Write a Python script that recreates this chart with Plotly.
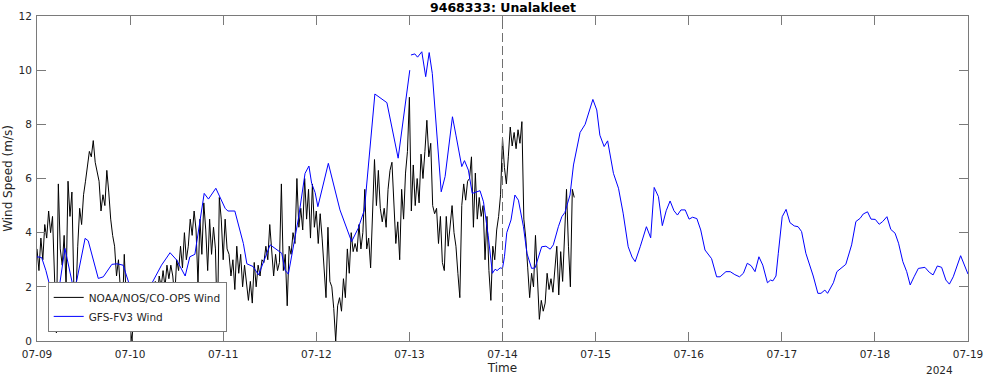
import pandas as pd
import plotly.graph_objects as go

# ---------------- data ----------------
start = pd.Timestamp("2024-07-09 00:00")
forecast_start = "2024-07-14 00:00"
x_range = ["2024-07-09 00:00", "2024-07-19 00:00"]
y_ticks = [0, 2, 4, 6, 8, 10, 12]

obs_step_hours = 0.5
obs_wind = [
    3.4, 2.6, 3.8, 3.0, 4.3, 3.8, 4.8, 4.0, 4.6, 2.0,
    0.3, 5.8, 3.4, 2.8, 3.9, 2.0, 5.9, 4.6, 5.5, 2.0,
    1.5, 3.5, 4.9, 4.3, 5.4, 5.9, 6.5, 7.0, 6.8, 7.4,
    6.6, 6.2, 5.9, 4.8, 5.4, 5.0, 6.3, 5.5, 4.5, 3.9,
    3.5, 2.4, 3.0, 1.9, 1.0, 3.2, 1.6, 2.0, 0.5, 0.0,
    1.4, 1.7, 1.8, 1.5, 1.9, 1.6, 1.8, 1.4, 2.0, 1.7,
    1.3, 2.2, 1.6, 2.4, 2.0, 2.6, 2.0, 2.8, 2.3, 2.8,
    2.4, 1.6, 3.0, 2.6, 3.5, 2.7, 4.0, 3.0, 3.5, 4.5,
    3.9, 4.8, 4.1, 2.1, 4.5, 3.2, 5.1, 4.1, 2.6, 4.5,
    3.2, 4.2, 3.4, 0.4, 5.3, 4.5, 3.0, 4.5, 3.4, 3.2,
    2.4, 3.0, 1.9, 3.5, 2.5, 3.2, 2.0, 2.8, 2.2, 1.5,
    2.2, 1.4, 2.9, 2.0, 2.8, 2.4, 3.0, 2.9, 3.5, 3.0,
    4.3, 3.5, 2.4, 3.2, 2.6, 2.9, 5.8, 2.6, 3.2, 1.3,
    3.5, 3.2, 4.0, 3.6, 6.0, 4.2, 4.9, 4.1, 6.0, 4.5,
    5.6, 3.8, 5.8, 4.2, 4.8, 3.6, 4.7, 3.8, 2.7, 1.6,
    4.2, 2.2, 2.0, 1.2, 0.0, 1.3, 1.6, 1.1, 2.3, 1.6,
    3.4, 2.5, 4.0, 3.3, 3.6, 3.3, 4.3, 3.4, 4.0, 5.6,
    3.4, 3.8, 2.7, 5.0, 6.7, 5.0, 6.3, 4.9, 4.4, 4.9,
    4.2, 5.6, 6.3, 6.6, 4.9, 3.6, 4.4, 3.0, 5.6, 4.5,
    6.2, 7.0, 9.0, 4.8, 6.5, 5.0, 6.0, 5.1, 6.9, 6.0,
    7.0, 8.15, 6.8, 7.3, 5.0, 4.7, 4.9, 3.6, 4.6, 2.9,
    2.6, 4.6, 3.5, 4.4, 5.0, 4.0, 3.5, 2.5, 1.6, 5.0,
    5.8, 5.2, 5.9, 6.0, 6.8, 4.2, 6.2, 4.5, 5.3, 4.6,
    5.0, 3.0, 4.6, 2.6, 1.5, 3.5, 3.0, 4.1, 4.6, 5.4,
    7.5, 6.4, 5.8, 6.8, 7.9, 7.2, 7.7, 7.1, 7.8, 7.3,
    8.1, 4.5, 3.8, 2.7, 1.6, 2.5, 2.0, 3.9, 2.3, 0.8,
    1.5, 1.1, 1.4, 2.5, 1.9, 2.3, 1.8, 2.6, 3.5, 1.7,
    3.3, 2.2, 3.7, 5.6, 3.5, 2.0, 5.6, 5.3,
]

# model wind: hours since 07-09 00:00 and speed (None = break in the line)
model_hours = [
    0, 1.2, 2.3, 3.8, 4.6, 5.5, 7.2, 9.2, 10.2, 12.4,
    13.2, 15.8, 17.1, 19.3, 20.6, 22.2, 24.0, 25.3, 26.6, 29.6,
    32.1, 34.3, 36.0, 38.2, 39.4, 40.7, 43.1, 44.2, 46.1, 48.5,
    49.2, 51.0, 53.2, 54.1, 55.7, 57.1, 60.1, 61.6, 63.1, 63.9,
    64.8, 67.4, 69.1, 70.1, 70.8, 71.7, 72.4, 75.1, 78.1, 81.1,
    82.8, 84.4, 87.1, 90.2, 93.1, 96.1, 96.25, 96.4, 97.4, 98.1,
    99.2, 100.2, 101.1, 101.9, 104.2, 105.2, 107.1, 108.0, 109.5, 110.2,
    111.2, 112.2, 114.2, 115.1, 116.3, 117.4, 118.1, 118.6, 119.4, 120.0,
    120.5, 121.1, 122.2, 123.2, 124.1, 125.4, 126.3, 127.5, 128.4, 130.1,
    131.2, 132.3, 133.1, 134.4, 135.3, 136.1, 137.4, 138.3, 140.0, 141.3,
    143.3, 144.3, 145.1, 146.2, 147.1, 148.6, 149.9, 151.1, 152.4, 153.4,
    154.2, 155.5, 157.1, 158.2, 159.1, 160.2, 161.2, 162.2, 163.2, 164.2,
    165.1, 166.0, 167.1, 168.1, 169.0, 170.1, 171.1, 172.2, 173.9, 175.2,
    176.1, 177.6, 178.7, 179.9, 181.1, 182.1, 183.1, 184.1, 185.1, 186.1,
    187.1, 188.3, 189.1, 189.7, 190.5, 191.1, 192.1, 193.1, 194.1, 195.2,
    196.2, 197.1, 198.2, 200.1, 201.3, 202.1, 203.1, 203.8, 205.3, 206.2,
    207.3, 208.5, 210.0, 211.1, 212.2, 213.0, 214.1, 215.0, 216.1, 217.1,
    218.0, 219.1, 220.1, 221.2, 222.1, 223.2, 224.2, 225.1, 226.1, 227.2,
    228.9, 230.0, 231.0, 232.1, 233.2, 234.3, 235.2, 236.2, 238.1, 240.0,
]
model_wind = [
    3.11, 3.08, 2.6, 1.76, 1.6, 1.75, 3.42, 2.07, 2.2, 3.79,
    3.7, 2.31, 2.37, 2.83, 2.85, 2.8, 2.0, 1.6, 1.65, 2.13,
    2.8, 3.26, 2.99, 2.40, 3.11, 3.2, 5.45, 5.24, 5.64, 4.9,
    4.8, 4.8, 3.6, 2.85, 2.75, 2.44, 3.55, 3.38, 3.24, 2.62,
    2.47, 4.53, 6.19, 6.46, 5.82, 5.48, 4.96, 6.56, 4.84, 3.67,
    4.16, 4.84, 9.12, 8.8, 6.75, 10.0, None, 10.56, 10.6, 10.48,
    10.68, 9.76, 10.65, 9.88, 5.51, 6.07, 8.28, 7.6, 6.44, 6.66,
    6.31, 5.45, 5.55, 5.14, 3.9, 2.5, 2.65, 2.6, 2.7, 2.68,
    3.11, 4.0, 4.47, 5.39, 5.2, 4.22, 3.24, 2.68, 2.7, 3.48,
    3.5, 3.39, 3.55, 4.22, 4.59, 4.75, 5.39, 6.5, 7.7, 8.0,
    8.92, 8.53, 7.6, 7.18, 7.39, 6.19, 5.64, 4.72, 3.48, 3.1,
    2.93, 3.48, 4.22, 3.81, 5.67, 5.33, 4.26, 4.81, 5.17, 4.81,
    4.65, 4.84, 4.84, 4.5, 4.57, 4.52, 4.1, 3.36, 3.04, 2.37,
    2.37, 2.56, 2.56, 2.45, 2.37, 2.5, 2.87, 2.78, 2.56, 3.11,
    2.8, 2.15, 2.25, 2.22, 2.4, 3.24, 4.59, 4.86, 4.37, 4.25,
    4.22, 4.04, 3.24, 2.4, 1.76, 1.76, 1.88, 1.76, 2.15, 2.56,
    2.68, 2.83, 3.55, 4.41, 4.53, 4.69, 4.77, 4.5, 4.49, 4.31,
    4.41, 4.59, 4.12, 3.98, 3.61, 2.93, 2.56, 2.07, 2.37, 2.68,
    2.72, 2.54, 2.44, 2.77, 2.72, 2.25, 2.1, 2.37, 3.15, 2.47,
]

title_text = "9468333: Unalakleet"
obs_name = "NOAA/NOS/CO-OPS Wind"
model_name = "GFS-FV3 Wind"
x_label = "Time"
y_label = "Wind Speed (m/s)"
year_label = "2024"

# ---------------- build ----------------
obs_time = [start + pd.Timedelta(hours=obs_step_hours * i) for i in range(len(obs_wind))]
model_time = [start + pd.Timedelta(hours=h) for h in model_hours]

FONT = "DejaVu Sans"
AX = "#7a7a7a"
TXT = "#262626"

fig = go.Figure()
fig.add_trace(go.Scatter(x=obs_time, y=obs_wind, mode="lines", name=obs_name,
                         line=dict(color="black", width=1)))
fig.add_trace(go.Scatter(x=model_time, y=model_wind, mode="lines", name=model_name,
                         line=dict(color="#0000ff", width=1)))

fig.add_shape(type="line", xref="x", yref="paper", x0=forecast_start, x1=forecast_start,
              y0=0, y1=1, line=dict(color="#707070", width=1, dash="9px,4px"))

fig.update_layout(
    width=985, height=376,
    margin=dict(l=37, r=17, t=16, b=35, autoexpand=False),
    paper_bgcolor="white", plot_bgcolor="white",
    font=dict(family=FONT, size=10, color=TXT),
    showlegend=True,
    legend=dict(x=0.0115, y=0.028, xanchor="left", yanchor="bottom",
                bgcolor="white", bordercolor="#7a7a7a", borderwidth=1,
                font=dict(family=FONT, size=10.5, color=TXT),
                itemwidth=30, tracegroupgap=0),
    annotations=[
        dict(text="<b>" + title_text + "</b>", xref="paper", yref="paper", x=0.5, y=1,
             xanchor="center", yanchor="bottom", showarrow=False,
             font=dict(family=FONT, size=12.5, color="black"), yshift=-1),
        dict(text=year_label, xref="paper", yref="paper", x=0.986, y=-0.089,
             xanchor="right", yanchor="middle", showarrow=False,
             font=dict(family=FONT, size=10.5, color=TXT)),
    ],
)

fig.update_xaxes(
    type="date", range=x_range, tickformat="%m-%d", dtick=86400000,
    ticks="inside", ticklen=9, tickcolor=AX, showline=True, linecolor=AX, linewidth=1,
    mirror="ticks", showgrid=False, zeroline=False, automargin=False,
    ticklabelstandoff=3,
    tickfont=dict(family=FONT, size=10.5, color=TXT),
    title=dict(text=x_label, font=dict(family=FONT, size=12, color=TXT), standoff=5),
)
fig.update_yaxes(
    range=[0, 12], tickvals=y_ticks,
    ticks="inside", ticklen=9, tickcolor=AX, showline=True, linecolor=AX, linewidth=1,
    mirror="ticks", showgrid=False, zeroline=False, automargin=False,
    ticklabelstandoff=2,
    tickfont=dict(family=FONT, size=10.5, color=TXT),
    title=dict(text=y_label, font=dict(family=FONT, size=12, color=TXT), standoff=3),
)

fig.write_html(
    "out.html",
    config={"displayModeBar": False},
    post_script="document.body.style.margin='0px';document.body.style.overflow='hidden';",
)
